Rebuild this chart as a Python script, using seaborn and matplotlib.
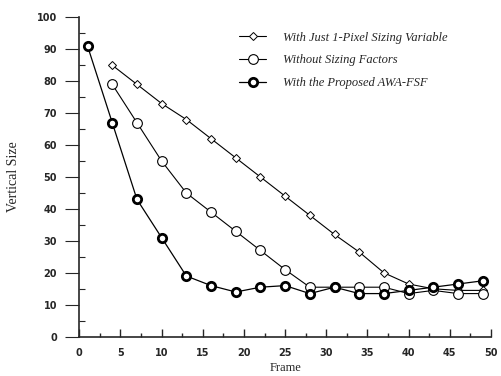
import matplotlib
matplotlib.use("Agg")
import matplotlib.pyplot as plt
import pandas as pd
import seaborn as sns
from matplotlib.ticker import MultipleLocator

frames_one = [4, 7, 10, 13, 16, 19, 22, 25, 28, 31, 34, 37, 40, 43, 46, 49]
size_one_pixel = [85, 79, 73, 68, 62, 56, 50, 44, 38, 32, 26.5, 20, 16.5, 15, 14.5, 14.5]

frames_two = [4, 7, 10, 13, 16, 19, 22, 25, 28, 31, 34, 37, 40, 43, 46, 49]
size_no_factors = [79, 67, 55, 45, 39, 33, 27, 21, 15.5, 15.5, 15.5, 15.5, 13.5, 14.5, 13.5, 13.5]

frames_three = [1, 4, 7, 10, 13, 16, 19, 22, 25, 28, 31, 34, 37, 40, 43, 46, 49]
size_awa_fsf = [91, 67, 43, 31, 19, 16, 14, 15.5, 16, 13.5, 15.5, 13.5, 13.5, 14.5, 15.5, 16.5, 17.5]

labels = [
    "With Just 1-Pixel Sizing Variable",
    "Without Sizing Factors",
    "With the Proposed AWA-FSF",
]

sns.set_style("ticks")

fig = plt.figure(figsize=(5.02, 3.76), dpi=100)
ax = fig.add_axes([0.158, 0.1045, 0.82, 0.8495])

df1 = pd.DataFrame({"x": frames_one, "y": size_one_pixel})
df2 = pd.DataFrame({"x": frames_two, "y": size_no_factors})
df3 = pd.DataFrame({"x": frames_three, "y": size_awa_fsf})

sns.lineplot(data=df1, x="x", y="y", ax=ax, color="black", lw=0.8,
             marker="D", markersize=4.5, markerfacecolor="white",
             markeredgecolor="black", markeredgewidth=0.7, label=labels[0])
sns.lineplot(data=df2, x="x", y="y", ax=ax, color="black", lw=0.8,
             marker="o", markersize=7, markerfacecolor="white",
             markeredgecolor="black", markeredgewidth=0.8, label=labels[1])
sns.lineplot(data=df3, x="x", y="y", ax=ax, color="black", lw=0.9,
             marker="o", markersize=6, markerfacecolor="white",
             markeredgecolor="black", markeredgewidth=2.0, label=labels[2])

ax.set_xlim(0, 50)
ax.set_ylim(0, 100)
ax.xaxis.set_major_locator(MultipleLocator(5))
ax.xaxis.set_minor_locator(MultipleLocator(2.5))
ax.yaxis.set_major_locator(MultipleLocator(10))
ax.yaxis.set_minor_locator(MultipleLocator(5))
ax.tick_params(axis="x", which="major", direction="in", length=6, width=1, pad=8)
ax.tick_params(axis="x", which="minor", direction="in", length=3, width=1)
ax.tick_params(axis="y", which="major", direction="out", length=10, width=0.8, pad=6)
ax.tick_params(axis="y", which="minor", direction="in", length=4, width=0.8)
for lab in ax.get_xticklabels() + ax.get_yticklabels():
    lab.set_fontsize(7)
    lab.set_fontweight("bold")
    lab.set_family("DejaVu Sans")

sns.despine(ax=ax)
ax.spines["left"].set_linewidth(1.2)
ax.spines["bottom"].set_linewidth(1.2)

ax.set_xlabel("Frame", family="Liberation Serif", fontsize=9, labelpad=3)
ax.set_ylabel("Vertical Size", family="Liberation Serif", fontsize=10, labelpad=12)

ax.legend(loc="upper left", bbox_to_anchor=(0.36, 0.99), frameon=False,
          prop={"family": "Liberation Serif", "style": "italic", "size": 9},
          handlelength=2.2, labelspacing=0.85, handletextpad=1.3)

fig.savefig("out.png", dpi=100)
